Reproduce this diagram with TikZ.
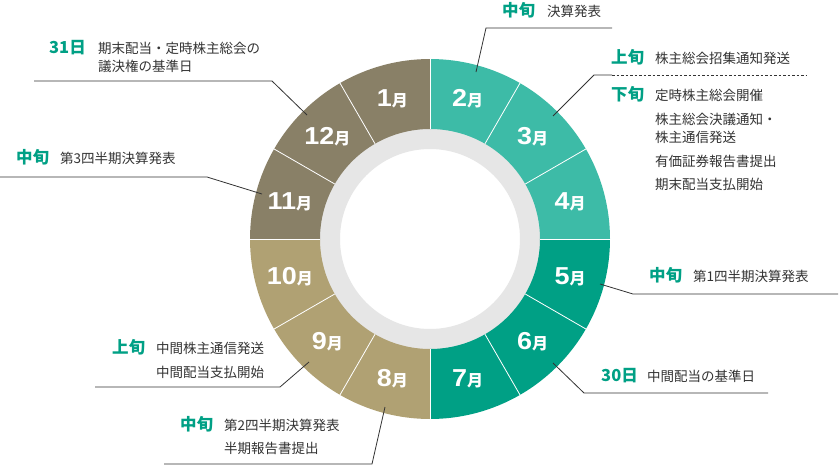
\documentclass[tikz,border=0pt]{standalone}
\usepackage{fontspec}
\setmainfont{Noto Sans CJK JP}
\newfontfamily\numfont{Liberation Sans}[FakeStretch=1.1]
\definecolor{lteal}{HTML}{3DBBA7}
\definecolor{dteal}{HTML}{00A085}
\definecolor{khaki}{HTML}{B0A173}
\definecolor{brgray}{HTML}{898067}
\definecolor{ringgray}{HTML}{E6E6E6}
\definecolor{txt}{HTML}{333333}
\tikzset{
  sector/.style={fill=#1},
  mlabel/.style={text=white, inner sep=0pt, anchor=center},
  head/.style={text=dteal, font=\fontsize{16.5}{16.5}\selectfont\bfseries, inner sep=0pt, anchor=base west},
  desc/.style={text=txt, font=\fontsize{13.5}{13.5}\selectfont, inner sep=0pt, anchor=base west},
  conn/.style={draw=txt, line width=0.8pt},
  dashconn/.style={draw=txt, line width=0.8pt, dash pattern=on 2.5pt off 2pt},
}
\newcommand{\mon}[1]{{\fontsize{24.5}{24.5}\selectfont\numfont\bfseries #1}{\fontsize{16}{16}\selectfont\bfseries 月}}
\begin{document}
\begin{tikzpicture}[x=1pt,y=1pt]
\useasboundingbox (0,0) rectangle (839,-466);
\fill[white] (0,0) rectangle (839,-466);
% ring
\begin{scope}[shift={(430,-239)}]
  \fill[ringgray, even odd rule] (0,0) circle[radius=111] (0,0) circle[radius=90];
  \foreach \m/\c in {1/brgray,2/lteal,3/lteal,4/lteal,5/dteal,6/dteal,7/dteal,8/khaki,9/khaki,10/khaki,11/brgray,12/brgray}{
    \pgfmathsetmacro{\aa}{120-30*\m}
    \pgfmathsetmacro{\ab}{150-30*\m}
    \fill[sector=\c] (\aa:110) arc[start angle=\aa, end angle=\ab, radius=110] -- (\ab:180) arc[start angle=\ab, end angle=\aa, radius=180] -- cycle;
  }
  \foreach \a in {0,30,...,330}{
    \draw[white, line width=0.8pt] (\a:110) -- (\a:180.5);
  }
  \node[mlabel] (m1) at (105:145) {\mon{1}};
  \node[mlabel] (m2) at (75:145) {\mon{2}};
  \node[mlabel] (m3) at (45:145) {\mon{3}};
  \node[mlabel] (m4) at (15:145) {\mon{4}};
  \node[mlabel] (m5) at (-15:145) {\mon{5}};
  \node[mlabel] (m6) at (-45:145) {\mon{6}};
  \node[mlabel] (m7) at (-75:145) {\mon{7}};
  \node[mlabel] (m8) at (-105:145) {\mon{8}};
  \node[mlabel] (m9) at (-135:145) {\mon{9}};
  \node[mlabel] (m10) at (-165:145) {\mon{10}};
  \node[mlabel] (m11) at (165:145) {\mon{11}};
  \node[mlabel] (m12) at (135:145) {\mon{12}};
\end{scope}
% connector points
\coordinate (a2) at (476,-72);  \coordinate (b2) at (486,-28);  \coordinate (e2) at (612,-28);
\coordinate (a3) at (553,-116); \coordinate (b3) at (594,-75);  \coordinate (c3) at (612,-75); \coordinate (e3) at (807,-75);
\coordinate (a5) at (600,-284); \coordinate (b5) at (633,-294); \coordinate (e5) at (838,-294);
\coordinate (a6) at (553,-363); \coordinate (b6) at (584,-393); \coordinate (e6) at (768,-393);
\coordinate (a9) at (309,-362); \coordinate (b9) at (280,-387); \coordinate (e9) at (95,-387);
\coordinate (a8) at (385,-407); \coordinate (b8) at (372,-464); \coordinate (e8) at (164,-464);
\coordinate (a11) at (262,-194); \coordinate (b11) at (207,-177); \coordinate (e11) at (0,-177);
\coordinate (a12) at (307,-115); \coordinate (b12) at (272,-81); \coordinate (e12) at (34,-81);
\draw[conn] (a2) -- (b2) -- (e2);
\draw[conn] (a3) -- (b3) -- (c3);
\draw[dashconn] (c3) -- (e3);
\draw[conn] (a5) -- (b5) -- (e5);
\draw[conn] (a6) -- (b6) -- (e6);
\draw[conn] (a9) -- (b9) -- (e9);
\draw[conn] (a8) -- (b8) -- (e8);
\draw[conn] (a11) -- (b11) -- (e11);
\draw[conn] (a12) -- (b12) -- (e12);
% texts
\node[head] (h2) at (502,-16) {中旬};
\node[desc] (d2) at (547,-16) {決算発表};
\node[head] (h3a) at (611,-63) {上旬};
\node[desc] (d3a) at (655,-63) {株主総会招集通知発送};
\node[head] (h3b) at (611,-100) {下旬};
\node[desc] (d3b1) at (655,-100) {定時株主総会開催};
\node[desc] (d3b2) at (655,-124) {株主総会決議通知・};
\node[desc] (d3b3) at (655,-142) {株主通信発送};
\node[desc] (d3b4) at (655,-166) {有価証券報告書提出};
\node[desc] (d3b5) at (655,-189) {期末配当支払開始};
\node[head] (h5) at (649,-281) {中旬};
\node[desc] (d5) at (693,-281) {第1四半期決算発表};
\node[head] (h6) at (601,-381) {30日};
\node[desc] (d6) at (647,-381) {中間配当の基準日};
\node[head] (h9) at (112,-353) {上旬};
\node[desc] (d9a) at (156,-353) {中間株主通信発送};
\node[desc] (d9b) at (156,-377) {中間配当支払開始};
\node[head] (h8) at (180,-430) {中旬};
\node[desc] (d8a) at (224,-430) {第2四半期決算発表};
\node[desc] (d8b) at (224,-453) {半期報告書提出};
\node[head] (h11) at (16,-163) {中旬};
\node[desc] (d11) at (60,-163) {第3四半期決算発表};
\node[head] (h12) at (49,-53) {31日};
\node[desc] (d12a) at (98,-53) {期末配当・定時株主総会の};
\node[desc] (d12b) at (98,-71) {議決権の基準日};
\end{tikzpicture}
\end{document}
